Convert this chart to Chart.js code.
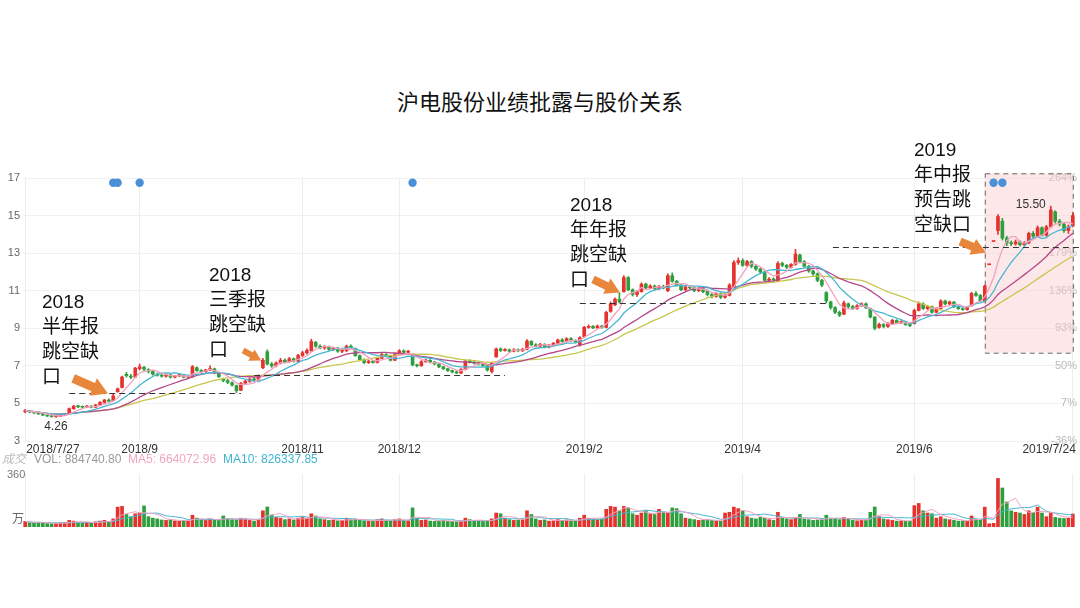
<!DOCTYPE html>
<html>
<head>
<meta charset="utf-8">
<script src="https://cdn.jsdelivr.net/npm/chart.js@4.4.1/dist/chart.umd.min.js"></script>
<style>
  body { margin: 0; width: 1080px; height: 608px; overflow: hidden; position: relative; background: #fff;
         font-family: "Liberation Sans", "Noto Sans CJK SC", sans-serif; }
  #title { position: absolute; left: 0; top: 84px; width: 1080px; text-align: center;
           font: 22px "Noto Sans CJK SC", sans-serif; color: #111; }
  .note { position: absolute; font-size: 19px; line-height: 25px; color: #111;
          font-family: "Liberation Sans", "Noto Sans CJK SC", sans-serif; }
  canvas { position: absolute; left: 0; }
  #priceChart { top: 0; }
  #volChart { top: 440px; }
  .vleg { position: absolute; top: 452px; font-size: 12px; line-height: 14px; white-space: nowrap; }
</style>
</head>
<body>
<div id="title">沪电股份业绩批露与股价关系</div>
<canvas id="priceChart" width="1080" height="460"></canvas>
<canvas id="volChart" width="1080" height="90"></canvas>

<div class="note" style="left:42px;top:289px">2018<br>半年报<br>跳空缺<br>口</div>
<div class="note" style="left:209px;top:262px">2018<br>三季报<br>跳空缺<br>口</div>
<div class="note" style="left:570px;top:192px">2018<br>年年报<br>跳空缺<br>口</div>
<div class="note" style="left:914px;top:137px">2019<br>年中报<br>预告跳<br>空缺口</div>

<div class="vleg" style="left:2px;color:#bbb;font-style:italic">成交</div>
<div class="vleg" style="left:34px;color:#999">VOL: 884740.80</div>
<div class="vleg" style="left:128px;color:#f2a6c2">MA5: 664072.96</div>
<div class="vleg" style="left:223px;color:#3fb4cf">MA10: 826337.85</div>
<div class="vleg" style="left:7px;top:467px;font-size:11px;color:#777">360</div>
<div class="vleg" style="left:12px;top:512px;color:#666">万</div>

<script>
// daily candles 2018/7/27 .. 2019/7/24, each row [open, close, high, low]
const dailyOHLC = [
  [4.55,4.62,4.68,4.50],[4.60,4.55,4.63,4.50],[4.55,4.50,4.58,4.45],[4.50,4.45,4.52,4.40],[4.45,4.38,4.48,4.35],
  [4.38,4.33,4.40,4.30],[4.33,4.30,4.36,4.27],[4.30,4.32,4.35,4.26],[4.32,4.38,4.42,4.30],[4.38,4.45,4.48,4.35],
  [4.45,4.72,4.76,4.43],[4.72,4.85,4.90,4.68],[4.85,4.82,4.90,4.78],[4.82,4.80,4.86,4.75],[4.80,4.86,4.90,4.77],
  [4.86,4.80,4.88,4.76],[4.80,4.92,4.95,4.78],[4.92,5.05,5.10,4.88],[5.05,5.18,5.22,5.00],[5.18,5.12,5.25,5.08],
  [5.15,5.40,5.50,5.12],[5.62,5.78,5.82,5.60],[5.85,6.40,6.45,5.82],[6.55,6.48,6.65,6.40],[6.45,6.40,6.55,6.32],
  [6.40,6.88,6.92,6.38],[6.85,6.95,7.10,6.78],[6.92,6.82,6.98,6.75],[6.80,6.70,6.85,6.62],[6.70,6.55,6.75,6.50],
  // 30
  [6.55,6.50,6.62,6.45],[6.50,6.45,6.56,6.40],[6.45,6.52,6.58,6.40],[6.52,6.40,6.55,6.35],[6.40,6.46,6.50,6.36],
  [6.46,6.52,6.58,6.42],[6.52,6.40,6.55,6.36],[6.40,6.45,6.50,6.35],[6.42,6.95,7.02,6.40],[6.90,6.75,6.95,6.70],
  [6.75,6.70,6.80,6.62],[6.70,6.78,6.82,6.66],[6.78,6.86,7.00,6.74],[6.84,6.62,6.88,6.58],[6.62,6.42,6.65,6.38],
  [6.30,6.22,6.35,6.15],[6.22,6.12,6.28,6.05],[6.10,5.98,6.15,5.92],[5.95,5.68,5.98,5.58],[5.70,6.08,6.12,5.68],
  [6.08,6.18,6.24,6.02],[6.18,6.30,6.35,6.12],[6.30,6.25,6.38,6.20],[6.25,6.45,6.52,6.22],[6.90,7.30,7.40,6.85],
  [7.75,7.10,7.85,7.05],[7.10,7.00,7.18,6.92],[7.00,7.15,7.22,6.95],[7.15,7.30,7.40,7.10],[7.30,7.22,7.38,7.15],
  // 60
  [7.22,7.38,7.45,7.18],[7.38,7.25,7.42,7.20],[7.25,7.55,7.62,7.22],[7.55,7.70,7.78,7.50],[7.70,7.82,7.90,7.62],
  [7.80,8.30,8.42,7.78],[8.25,8.05,8.30,7.98],[8.05,7.95,8.12,7.90],[7.95,8.02,8.08,7.88],[8.00,7.88,8.05,7.82],
  [7.88,7.95,8.00,7.82],[7.95,7.78,7.98,7.72],[7.78,7.82,7.88,7.70],[7.80,8.05,8.10,7.76],[8.05,7.95,8.12,7.90],
  [7.92,7.55,7.95,7.50],[7.55,7.32,7.58,7.28],[7.32,7.18,7.38,7.12],[7.18,7.25,7.30,7.12],[7.25,7.18,7.30,7.14],
  [7.18,7.40,7.45,7.15],[7.40,7.60,7.68,7.38],[7.60,7.52,7.66,7.48],[7.52,7.30,7.55,7.26],[7.30,7.62,7.68,7.28],
  [7.65,7.80,7.86,7.60],[7.80,7.72,7.85,7.68],[7.72,7.78,7.82,7.66],[7.60,7.05,7.62,7.00],[7.05,7.00,7.10,6.95],
  // 90
  [7.00,7.22,7.28,6.98],[7.22,7.30,7.36,7.18],[7.30,7.20,7.34,7.15],[7.20,7.10,7.24,7.05],[7.10,6.95,7.12,6.90],
  [6.95,6.85,6.98,6.80],[6.85,6.75,6.88,6.70],[6.75,6.68,6.78,6.62],[6.68,6.62,6.72,6.58],[6.62,6.80,6.85,6.58],
  [6.80,7.25,7.30,6.78],[7.25,7.20,7.32,7.15],[7.20,7.15,7.25,7.10],[7.15,7.10,7.20,7.04],[7.10,7.02,7.15,6.98],
  [7.02,6.78,7.05,6.72],[6.70,7.15,7.20,6.62],[7.48,7.90,7.95,7.45],[7.90,7.82,7.96,7.76],[7.82,7.85,7.92,7.78],
  [7.85,7.78,7.90,7.72],[7.78,7.86,7.92,7.74],[7.86,7.80,7.90,7.75],[7.80,7.88,7.94,7.76],[7.88,8.32,8.40,7.85],
  [8.30,8.12,8.34,8.08],[8.12,8.05,8.18,8.00],[8.05,8.15,8.20,8.00],[8.15,8.00,8.18,7.95],[8.00,8.10,8.14,7.96],
  // 120
  [8.10,8.20,8.25,8.05],[8.20,8.38,8.42,8.15],[8.38,8.30,8.45,8.25],[8.30,8.45,8.50,8.26],[8.45,8.35,8.50,8.30],
  [8.35,8.28,8.40,8.22],[8.10,8.50,8.55,8.05],[8.55,9.05,9.10,8.52],[9.05,9.10,9.18,9.00],[9.10,9.02,9.15,8.98],
  [9.02,9.12,9.18,9.00],[9.12,9.05,9.16,9.00],[9.05,9.85,9.90,9.02],[9.90,10.30,10.40,9.85],[10.25,10.55,10.62,10.20],
  [10.55,10.40,10.90,10.35],[10.95,11.70,11.80,10.92],[11.70,11.05,11.75,11.00],[11.05,10.80,11.10,10.72],[10.80,10.95,11.02,10.70],
  [10.95,11.35,11.42,10.92],[11.35,11.15,11.40,11.08],[11.15,11.25,11.32,11.10],[11.25,11.10,11.30,11.05],[11.10,11.22,11.28,11.05],
  [11.22,11.15,11.30,11.10],[11.00,11.80,11.90,10.95],[11.80,11.50,11.95,11.45],[11.50,11.30,11.55,11.25],[11.30,11.05,11.35,11.00],
  // 150
  [11.05,11.20,11.26,11.00],[11.20,11.15,11.28,11.10],[11.15,11.00,11.20,10.95],[11.00,11.10,11.16,10.95],[11.10,10.95,11.14,10.90],
  [11.00,10.80,11.05,10.72],[10.80,10.70,10.85,10.62],[10.70,10.85,10.92,10.65],[10.85,10.65,10.88,10.58],[10.65,10.75,10.82,10.60],
  [10.75,11.30,11.38,10.72],[11.20,12.50,12.60,11.15],[12.50,12.60,12.75,12.40],[12.60,12.35,12.70,12.30],[12.35,12.55,12.62,12.30],
  [12.55,12.30,12.60,12.22],[12.30,12.15,12.35,12.08],[12.15,12.00,12.20,11.95],[12.00,11.55,12.05,11.50],[11.55,11.62,11.70,11.48],
  [11.62,11.58,11.68,11.50],[11.50,12.45,12.55,11.48],[12.45,12.35,12.52,12.28],[12.35,12.25,12.40,12.18],[12.25,12.40,12.45,12.20],
  [12.40,12.95,13.20,12.35],[12.90,12.55,12.95,12.48],[12.55,12.30,12.60,12.25],[12.30,12.05,12.35,11.98],[12.05,11.90,12.10,11.82],
  // 180
  [11.90,11.55,11.95,11.48],[11.55,11.30,11.60,11.22],[10.90,10.45,10.95,10.35],[10.40,10.10,10.45,10.02],[10.10,9.85,10.15,9.78],
  [9.85,9.70,9.92,9.62],[9.75,10.35,10.45,9.72],[10.30,10.15,10.35,10.05],[10.15,10.05,10.22,10.00],[10.05,10.20,10.26,10.00],
  [10.20,10.30,10.36,10.15],[10.30,10.10,10.35,10.05],[10.05,9.60,10.08,9.55],[9.60,9.00,9.62,8.92],[9.05,9.20,9.28,9.00],
  [9.20,9.10,9.25,9.02],[9.10,9.25,9.30,9.05],[9.25,9.42,9.48,9.20],[9.42,9.30,9.46,9.25],[9.30,9.35,9.40,9.25],
  [9.35,9.20,9.38,9.15],[9.20,9.15,9.25,9.08],[9.25,9.95,10.02,9.22],[9.95,10.30,10.40,9.92],[10.30,10.05,10.35,10.00],
  [10.05,10.15,10.22,10.00],[10.15,9.85,10.18,9.80],[9.85,10.05,10.10,9.82],[10.05,10.45,10.52,10.02],[10.45,10.30,10.50,10.25],
  // 210
  [10.30,10.40,10.45,10.25],[10.40,10.15,10.42,10.10],[10.15,10.05,10.20,10.00],[10.05,10.00,10.10,9.95],[10.00,10.10,10.15,9.96],
  [10.20,10.85,10.92,10.18],[10.85,10.75,10.95,10.70],[10.75,10.45,10.80,10.40],[10.45,11.25,11.30,10.40],[12.38,12.38,12.38,12.38],
  [13.62,13.62,13.62,13.62],[14.20,14.95,15.05,14.00],[14.70,13.80,14.85,13.70],[13.80,13.55,13.90,13.40],[13.55,13.50,13.65,13.40],
  [13.50,13.60,13.70,13.42],[13.60,13.45,13.65,13.38],[13.45,13.55,13.62,13.40],[13.55,14.05,14.12,13.50],[14.05,13.90,14.15,13.82],
  [13.90,14.35,14.45,13.85],[14.35,13.95,14.40,13.90],[13.95,14.40,14.48,13.90],[14.40,15.30,15.50,14.35],[15.20,14.70,15.25,14.60],
  [14.70,14.55,14.80,14.45],[14.55,14.20,14.60,14.10],[14.20,14.40,14.50,14.05],[14.45,15.00,15.15,14.40]
];

// daily volume, 万股
const volumes = [
  38,30,28,32,26,24,22,25,28,30,   45,40,32,28,30,26,35,40,45,38,
  55,135,140,85,70,90,95,143,70,60, 55,48,45,50,42,40,45,40,80,60,
  50,45,55,50,45,75,55,50,48,60,   55,45,40,50,110,136,80,65,60,50,
  55,48,60,65,60,90,75,55,50,45,   48,42,45,60,50,55,48,42,40,38,
  50,55,45,42,50,55,45,42,130,60,  45,48,40,38,42,45,40,38,35,40,
  60,50,42,40,38,45,55,95,90,60,   50,45,48,50,110,85,55,45,48,40,
  42,50,45,48,42,40,60,80,60,55,   50,55,120,140,135,110,140,130,90,80,
  95,110,90,85,120,100,95,130,125,90, 60,55,50,45,48,50,45,42,40,95,
  100,135,125,110,70,60,55,65,60,50, 45,100,65,55,50,60,85,55,50,45,
  48,55,80,60,55,50,65,55,45,42,   45,48,100,136,70,55,50,45,40,42,
  38,40,145,160,110,95,90,60,70,55, 50,45,40,42,38,75,55,50,135,22,
  25,330,265,170,110,100,95,85,110,100, 135,95,70,95,65,60,58,60,88.5
];

const tickIndex = [0, 26, 63, 85, 127, 163, 202, 238];
const tickText = ['2018/7/27', '2018/9', '2018/11', '2018/12', '2019/2', '2019/4', '2019/6', '2019/7/24'];
const priceTicks = [3, 5, 7, 9, 11, 13, 15, 17];
const pctText = ['-36%', '7%', '50%', '93%', '136%', '179%', '', '264%'];

const eventIndex = [20, 21, 26, 88, 220, 222];
const eventLevel = 16.75;

// gap levels (price) and the day span each dashed line covers
const gapLevel = [5.56, 6.52, 10.35, 13.35];
const gapFrom = [10, 52, 126, 183.5];
const gapTo = [49, 109, 182.5, 999];

// arrows: tail and tip as [day, price]
const arrowTail = [[10.9, 6.33], [49.5, 7.82], [129, 11.6], [212.4, 13.62]];
const arrowTip = [[18.8, 5.53], [53.6, 7.29], [135.1, 10.91], [218.3, 13.04]];
const arrowSize = [[9, 19], [6, 13], [8, 17], [8, 17]];

const boxDays = [218, 238];
const boxPrice = [7.7, 17.25];

const RED = '#e5322d', GREEN = '#2f9e3f';
const maLen = [5, 10, 20, 30];
const maColor = ['#f2a2c0', '#48b6d2', '#b5478a', '#c9c64e'];

const days = dailyOHLC.map((_, i) => i);
const closes = dailyOHLC.map(d => d[1]);
const candleColor = dailyOHLC.map(d => d[1] >= d[0] ? RED : GREEN);

function movingAverage(values, len) {
  return values.map((_, i) => {
    const win = values.slice(Math.max(0, i - len + 1), i + 1);
    return win.reduce((a, b) => a + b, 0) / win.length;
  });
}

const gridColor = ctx => tickIndex.includes(ctx.index) ? '#ededed' : 'rgba(0,0,0,0)';
const xScale = {
  type: 'category', offset: true,
  grid: { color: gridColor, offset: false, drawTicks: false },
  border: { display: false },
  ticks: { display: false, autoSkip: false },
  afterFit: s => { s.height = 0; }
};

const overlay = {
  id: 'overlay',
  beforeDatasetsDraw(chart) {
    const { ctx, scales: { x, y } } = chart;
    const x0 = x.getPixelForValue(boxDays[0]), x1 = x.getPixelForValue(boxDays[1]);
    const y0 = y.getPixelForValue(boxPrice[1]), y1 = y.getPixelForValue(boxPrice[0]);
    ctx.save();
    ctx.fillStyle = 'rgba(248,205,205,0.45)';
    ctx.fillRect(x0, y0, x1 - x0, y1 - y0);
    ctx.setLineDash([5, 4]);
    ctx.strokeStyle = '#666';
    ctx.lineWidth = 1;
    ctx.strokeRect(x0 + 0.5, y0 + 0.5, x1 - x0, y1 - y0);
    ctx.restore();
  },
  afterDatasetsDraw(chart) {
    const { ctx, chartArea, scales: { x, y } } = chart;
    ctx.save();
    // gap lines
    ctx.setLineDash([6, 4]);
    ctx.strokeStyle = '#333';
    ctx.lineWidth = 1.2;
    gapLevel.forEach((p, k) => {
      const py = Math.round(y.getPixelForValue(p)) + 0.5;
      ctx.beginPath();
      ctx.moveTo(x.getPixelForValue(gapFrom[k]), py);
      ctx.lineTo(Math.min(chart.width, x.getPixelForValue(gapTo[k])), py);
      ctx.stroke();
    });
    ctx.setLineDash([]);
    // arrows
    arrowTail.forEach((t, k) => {
      const ax = x.getPixelForValue(t[0]), ay = y.getPixelForValue(t[1]);
      const bx = x.getPixelForValue(arrowTip[k][0]), by = y.getPixelForValue(arrowTip[k][1]);
      const [shaft, head] = arrowSize[k];
      const len = Math.hypot(bx - ax, by - ay), hl = head * 0.85;
      ctx.save();
      ctx.translate(ax, ay);
      ctx.rotate(Math.atan2(by - ay, bx - ax));
      ctx.beginPath();
      ctx.moveTo(0, -shaft / 2);
      ctx.lineTo(len - hl, -shaft / 2);
      ctx.lineTo(len - hl, -head / 2);
      ctx.lineTo(len, 0);
      ctx.lineTo(len - hl, head / 2);
      ctx.lineTo(len - hl, shaft / 2);
      ctx.lineTo(0, shaft / 2);
      ctx.closePath();
      ctx.fillStyle = '#e8873b';
      ctx.fill();
      ctx.restore();
    });
    // extreme price labels
    const lows = dailyOHLC.map(d => d[3]), highs = dailyOHLC.map(d => d[2]);
    const iLow = lows.indexOf(Math.min(...lows)), iHigh = highs.indexOf(Math.max(...highs));
    ctx.font = '12px "Liberation Sans", sans-serif';
    ctx.fillStyle = '#333';
    ctx.textBaseline = 'middle';
    ctx.textAlign = 'center';
    ctx.fillText(lows[iLow].toFixed(2), x.getPixelForValue(iLow), y.getPixelForValue(lows[iLow]) + 9);
    ctx.textAlign = 'right';
    ctx.fillText(highs[iHigh].toFixed(2), x.getPixelForValue(iHigh) - 5, y.getPixelForValue(highs[iHigh]) - 1);
    // date labels
    ctx.fillStyle = '#333';
    tickIndex.forEach((i, k) => {
      ctx.textAlign = k === 0 ? 'left' : (k === tickIndex.length - 1 ? 'right' : 'center');
      const px = x.getPixelForValue(i) + (k === 0 ? 1 : (k === tickIndex.length - 1 ? 3 : 0));
      ctx.fillText(tickText[k], px, chartArea.bottom + 9);
    });
    ctx.restore();
  }
};

const maSets = maLen.map((len, k) => ({
  type: 'line', data: movingAverage(closes, len), borderColor: maColor[k],
  borderWidth: 1.3, pointRadius: 0, order: 0
}));

new Chart(document.getElementById('priceChart'), {
  type: 'bar',
  data: {
    labels: days,
    datasets: [
      { data: dailyOHLC.map(d => [d[3], d[2]]), backgroundColor: candleColor,
        barThickness: 1, grouped: false, order: 2 },
      { data: dailyOHLC.map(d => [d[0], d[1]]), backgroundColor: candleColor,
        barThickness: 3, minBarLength: 1, grouped: false, order: 1 },
      ...maSets,
      { type: 'line', data: days.map(i => eventIndex.includes(i) ? eventLevel : null),
        showLine: false, pointRadius: 4.2, pointBackgroundColor: '#4a90d9', pointBorderWidth: 0, order: 0 }
    ]
  },
  options: {
    responsive: false, animation: false, events: [],
    layout: { padding: { top: 178, bottom: 19, left: 0, right: 5 } },
    plugins: { legend: { display: false }, tooltip: { enabled: false } },
    scales: {
      x: xScale,
      y: {
        min: 3, max: 17, afterBuildTicks: s => { s.ticks = priceTicks.map(v => ({ value: v })); },
        ticks: { color: '#666', font: { size: 11, family: 'Liberation Sans' }, padding: 3 },
        grid: { color: '#f1f1f1', drawTicks: false },
        border: { display: false },
        afterFit: s => { s.width = 23; }
      },
      y2: {
        position: 'right', min: 3, max: 17,
        afterBuildTicks: s => { s.ticks = priceTicks.map(v => ({ value: v })); },
        ticks: { mirror: true, padding: 2, color: '#b8b8b8', font: { size: 11, family: 'Liberation Sans' },
                 callback: v => pctText[priceTicks.indexOf(v)] },
        grid: { display: false },
        border: { display: false },
        afterFit: s => { s.width = 0; }
      }
    }
  },
  plugins: [overlay]
});

const volColor = dailyOHLC.map(d => d[1] >= d[0] ? RED : GREEN);
new Chart(document.getElementById('volChart'), {
  type: 'bar',
  data: {
    labels: days,
    datasets: [
      { data: volumes, backgroundColor: volColor, barThickness: 3, order: 1 },
      { type: 'line', data: movingAverage(volumes, 5), borderColor: '#f2a2c0', borderWidth: 1, pointRadius: 0, order: 0 },
      { type: 'line', data: movingAverage(volumes, 10), borderColor: '#48b6d2', borderWidth: 1, pointRadius: 0, order: 0 }
    ]
  },
  options: {
    responsive: false, animation: false, events: [],
    layout: { padding: { top: 34, bottom: 3, left: 23, right: 5 } },
    plugins: { legend: { display: false }, tooltip: { enabled: false } },
    scales: {
      x: xScale,
      y: { display: false, min: 0, max: 360 }
    }
  }
});
</script>
</body>
</html>
